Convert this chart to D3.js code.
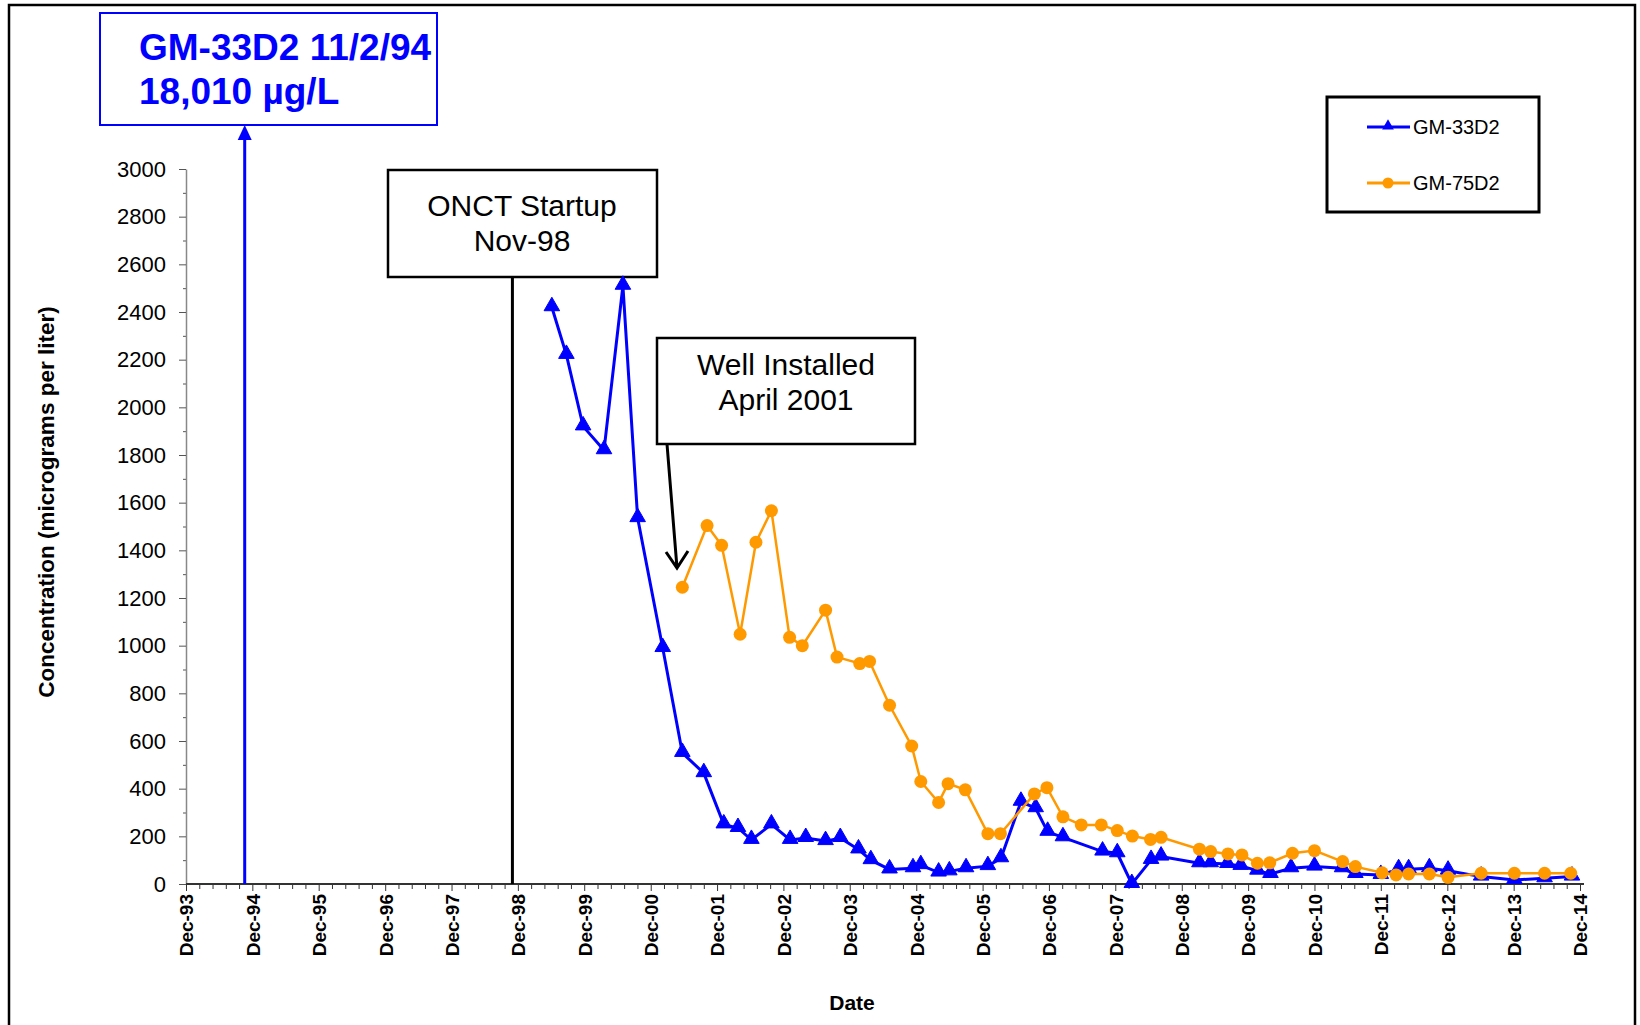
<!DOCTYPE html>
<html>
<head>
<meta charset="utf-8">
<script src="https://cdn.jsdelivr.net/npm/d3@7"></script>
<style>
	body { margin: 0; background: #fff; }
	svg text { font-family: "Liberation Sans", Arial, sans-serif; }
</style>
</head>
<body>
<div id="canvas"></div>
<script>
/* values */
var gm33Dates = ['1999-06-06','1999-08-25','1999-11-25','2000-03-19','2000-07-01','2000-09-20','2001-02-05','2001-05-24','2001-09-19',
	'2002-01-07','2002-03-26','2002-06-08','2002-09-26','2003-01-07','2003-04-03','2003-07-21','2003-10-10','2004-01-18','2004-03-26',
	'2004-07-07','2004-11-13','2004-12-26','2005-04-03','2005-06-01','2005-09-01','2005-12-30','2006-03-12','2006-06-30','2006-09-19',
	'2006-11-24','2007-02-16','2007-09-22','2007-12-12','2008-03-01','2008-06-15','2008-08-09','2009-03-08','2009-05-09','2009-08-09',
	'2009-10-21','2010-01-21','2010-04-03','2010-07-25','2010-12-01','2011-05-02','2011-07-14','2011-12-01','2012-03-08','2012-05-02',
	'2012-08-24','2012-12-05','2013-06-05','2013-12-05','2014-05-20','2014-10-18'];
var gm33Values = [2420,2220,1920,1820,2510,1535,990,550,465,
	250,235,185,250,185,193,180,193,145,100,
	61,66,79,48,53,66,75,108,345,318,
	219,196,136,129,0,101,115,87,87,84,
	76,56,42,66,73,66,42,38,62,62,
	66,56,31,17,24,31];

var gm75Dates = ['2001-05-24','2001-10-07','2001-12-26','2002-04-07','2002-07-03','2002-09-26','2003-01-04','2003-03-15','2003-07-21',
	'2003-09-22','2004-01-25','2004-03-19','2004-07-07','2004-11-06','2004-12-26','2005-04-03','2005-05-25','2005-08-28','2005-12-30',
	'2006-03-09','2006-09-12','2006-11-20','2007-02-16','2007-05-28','2007-09-15','2007-12-12','2008-03-04','2008-06-12','2008-08-09',
	'2009-03-08','2009-05-09','2009-08-12','2009-10-28','2010-01-21','2010-03-30','2010-08-02','2010-12-01','2011-05-05','2011-07-14',
	'2011-12-08','2012-02-23','2012-05-02','2012-08-24','2012-12-05','2013-06-05','2013-12-05','2014-05-20','2014-10-11'];
var gm75Values = [1245,1504,1421,1048,1434,1566,1035,1000,1149,
	952,925,934,750,579,430,342,421,395,211,
	211,378,404,282,248,248,224,201,187,196,
	146,136,126,122,87,89,129,140,94,73,
	47,38,42,42,28,45,45,45,45];

var seriesNames = ['GM-33D2','GM-75D2'];
var yTickValues = [0,200,400,600,800,1000,1200,1400,1600,1800,2000,2200,2400,2600,2800,3000];
var xTickYears = [1993,1994,1995,1996,1997,1998,1999,2000,2001,2002,2003,2004,2005,2006,2007,2008,2009,2010,2011,2012,2013,2014];

var offChartDate = '1994-10-20';
var offChartLabel = ['GM-33D2 11/2/94','18,010 \u00b5g/L'];
var startupDate = '1998-11-01';
var startupLabel = ['ONCT Startup','Nov-98'];
var wellLabel = ['Well Installed','April 2001'];

var W = 1640, H = 1025;
var parse = d3.timeParse('%Y-%m-%d');

var svg = d3.select('#canvas')
	.append('svg')
	.attr('width', W)
	.attr('height', H);

// outer frame
svg.append('rect')
	.attr('x', 9).attr('y', 5)
	.attr('width', 1626).attr('height', 1030)
	.style('fill','none')
	.style('stroke','#000')
	.style('stroke-width','2.5px');

var x = d3.scaleTime()
	.domain([new Date(1993,11,1), new Date(2014,11,1)])
	.range([186, 1580]);
var y = d3.scaleLinear()
	.domain([0,3000])
	.range([884,169]);

/* y axis */
var yMinor = yTickValues.slice(1).map(function(v){ return v - 100; });
svg.append('g')
	.attr('transform','translate(186,0)')
	.call(d3.axisLeft(y).tickValues(yMinor).tickSize(3).tickFormat(''))
	.call(function(g){ g.select('.domain').remove(); g.selectAll('line').style('stroke','#555'); });
var yAxis = svg.append('g')
	.attr('transform','translate(186,0)')
	.call(d3.axisLeft(y).tickValues(yTickValues).tickSize(7).tickSizeOuter(0).tickPadding(13).tickFormat(d3.format('d')));
yAxis.select('.domain').style('stroke','#888').style('stroke-width','1.5px');
yAxis.selectAll('line').style('stroke','#555');
yAxis.selectAll('text')
	.style('font-size','22px')
	.style('fill','#000');

/* x axis */
var xMajor = xTickYears.map(function(yr){ return new Date(yr,11,1); });
var xMinor = [];
xMajor.forEach(function(d, i){
	if (i == xMajor.length - 1) return;
	var next = xMajor[i+1];
	for (var k = 1; k < 5; k++) {
		xMinor.push(new Date(+d + (next - d) * k / 5));
	}
});
svg.append('g')
	.attr('transform','translate(0,884)')
	.call(d3.axisBottom(x).tickValues(xMinor).tickSize(5).tickFormat(''))
	.call(function(g){ g.select('.domain').remove(); g.selectAll('line').style('stroke','#333'); });
var xAxis = svg.append('g')
	.attr('transform','translate(0,884)')
	.call(d3.axisBottom(x).tickValues(xMajor).tickSize(7).tickSizeOuter(0).tickFormat(d3.timeFormat('Dec-%y')));
xAxis.select('.domain')
	.attr('d','M186,0H1584')
	.style('stroke','#333')
	.style('stroke-width','2px');
xAxis.selectAll('line').style('stroke','#333');
xAxis.selectAll('text')
	.attr('transform','rotate(-90)')
	.attr('x', -10)
	.attr('y', 0)
	.attr('dy','0.36em')
	.style('text-anchor','end')
	.style('font-size','19px')
	.style('font-weight','bold')
	.style('fill','#000');

/* axis titles */
svg.append('text')
	.attr('x', 852)
	.attr('y', 1010)
	.attr('text-anchor','middle')
	.style('font-size','21px')
	.style('font-weight','bold')
	.text('Date');
svg.append('text')
	.attr('transform','translate(54,502) rotate(-90)')
	.attr('text-anchor','middle')
	.style('font-size','22.5px')
	.style('font-weight','bold')
	.text('Concentration (micrograms per liter)');

/* annotations */
var xOff = x(parse(offChartDate));
svg.append('line')
	.attr('x1', xOff).attr('y1', y(0))
	.attr('x2', xOff).attr('y2', 138)
	.style('stroke','#0000ff')
	.style('stroke-width','3px');
svg.append('path')
	.attr('d','M'+xOff+',125L'+(xOff-7)+',140L'+(xOff+7)+',140Z')
	.style('fill','#0000ff');
svg.append('rect')
	.attr('x', 100).attr('y', 13)
	.attr('width', 337).attr('height', 112)
	.style('fill','#fff')
	.style('stroke','#0000ff')
	.style('stroke-width','2px');
offChartLabel.forEach(function(t, i){
	svg.append('text')
		.attr('x', 139)
		.attr('y', 60 + i*44)
		.style('font-size','37px')
		.style('font-weight','bold')
		.style('fill','#0000ff')
		.text(t);
});

var xStart = x(parse(startupDate));
svg.append('line')
	.attr('x1', xStart).attr('y1', y(0))
	.attr('x2', xStart).attr('y2', 277)
	.style('stroke','#000')
	.style('stroke-width','3px');
svg.append('rect')
	.attr('x', 388).attr('y', 170)
	.attr('width', 269).attr('height', 107)
	.style('fill','#fff')
	.style('stroke','#000')
	.style('stroke-width','2.5px');
startupLabel.forEach(function(t, i){
	svg.append('text')
		.attr('x', 522)
		.attr('y', 216 + i*35)
		.attr('text-anchor','middle')
		.style('font-size','30px')
		.text(t);
});

svg.append('rect')
	.attr('x', 657).attr('y', 338)
	.attr('width', 258).attr('height', 106)
	.style('fill','#fff')
	.style('stroke','#000')
	.style('stroke-width','2.5px');
wellLabel.forEach(function(t, i){
	svg.append('text')
		.attr('x', 786)
		.attr('y', 375 + i*35)
		.attr('text-anchor','middle')
		.style('font-size','30px')
		.text(t);
});
svg.append('path')
	.attr('d','M667,444L677,568M666,552L677,568L688,551')
	.style('fill','none')
	.style('stroke','#000')
	.style('stroke-width','3px');

/* series */
var series = [
	{name: seriesNames[0], dates: gm33Dates, values: gm33Values, color: '#0000ff', marker: 'tri'},
	{name: seriesNames[1], dates: gm75Dates, values: gm75Values, color: '#ff9900', marker: 'dot'}
];
var line = d3.line()
	.x(function(d){ return x(d.date); })
	.y(function(d){ return y(d.value); });
var tri = d3.symbol().type(d3.symbolTriangle).size(105);

series.forEach(function(s){
	var pts = s.dates.map(function(d, i){ return {date: parse(d), value: s.values[i]}; });
	var g = svg.append('g');
	g.append('path')
		.datum(pts)
		.attr('d', line)
		.style('fill','none')
		.style('stroke', s.color)
		.style('stroke-width', s.marker == 'tri' ? '3px' : '2.5px');
	pts.forEach(function(p){
		if (s.marker == 'tri') {
			g.append('path')
				.attr('d', tri)
				.attr('transform','translate('+x(p.date)+','+(y(p.value)-1)+')')
				.style('fill', s.color)
				.style('stroke', s.color)
				.style('stroke-width','1px');
		} else {
			g.append('circle')
				.attr('cx', x(p.date))
				.attr('cy', y(p.value))
				.attr('r', 6.5)
				.style('fill', s.color);
		}
	});
});

/* legend */
var legend = svg.append('g');
legend.append('rect')
	.attr('x', 1327).attr('y', 97)
	.attr('width', 212).attr('height', 115)
	.style('fill','#fff')
	.style('stroke','#000')
	.style('stroke-width','3px');
series.forEach(function(s, i){
	var ly = 127 + i*56;
	legend.append('line')
		.attr('x1', 1367).attr('y1', ly)
		.attr('x2', 1410).attr('y2', ly)
		.style('stroke', s.color)
		.style('stroke-width','3px');
	if (s.marker == 'tri') {
		legend.append('path')
			.attr('d', d3.symbol().type(d3.symbolTriangle).size(60))
			.attr('transform','translate(1388,'+(ly-1)+')')
			.style('fill', s.color);
	} else {
		legend.append('circle')
			.attr('cx', 1388).attr('cy', ly)
			.attr('r', 5.5)
			.style('fill', s.color);
	}
	legend.append('text')
		.attr('x', 1413)
		.attr('y', ly + 7)
		.style('font-size','20px')
		.text(s.name);
});
</script>
</body>
</html>
